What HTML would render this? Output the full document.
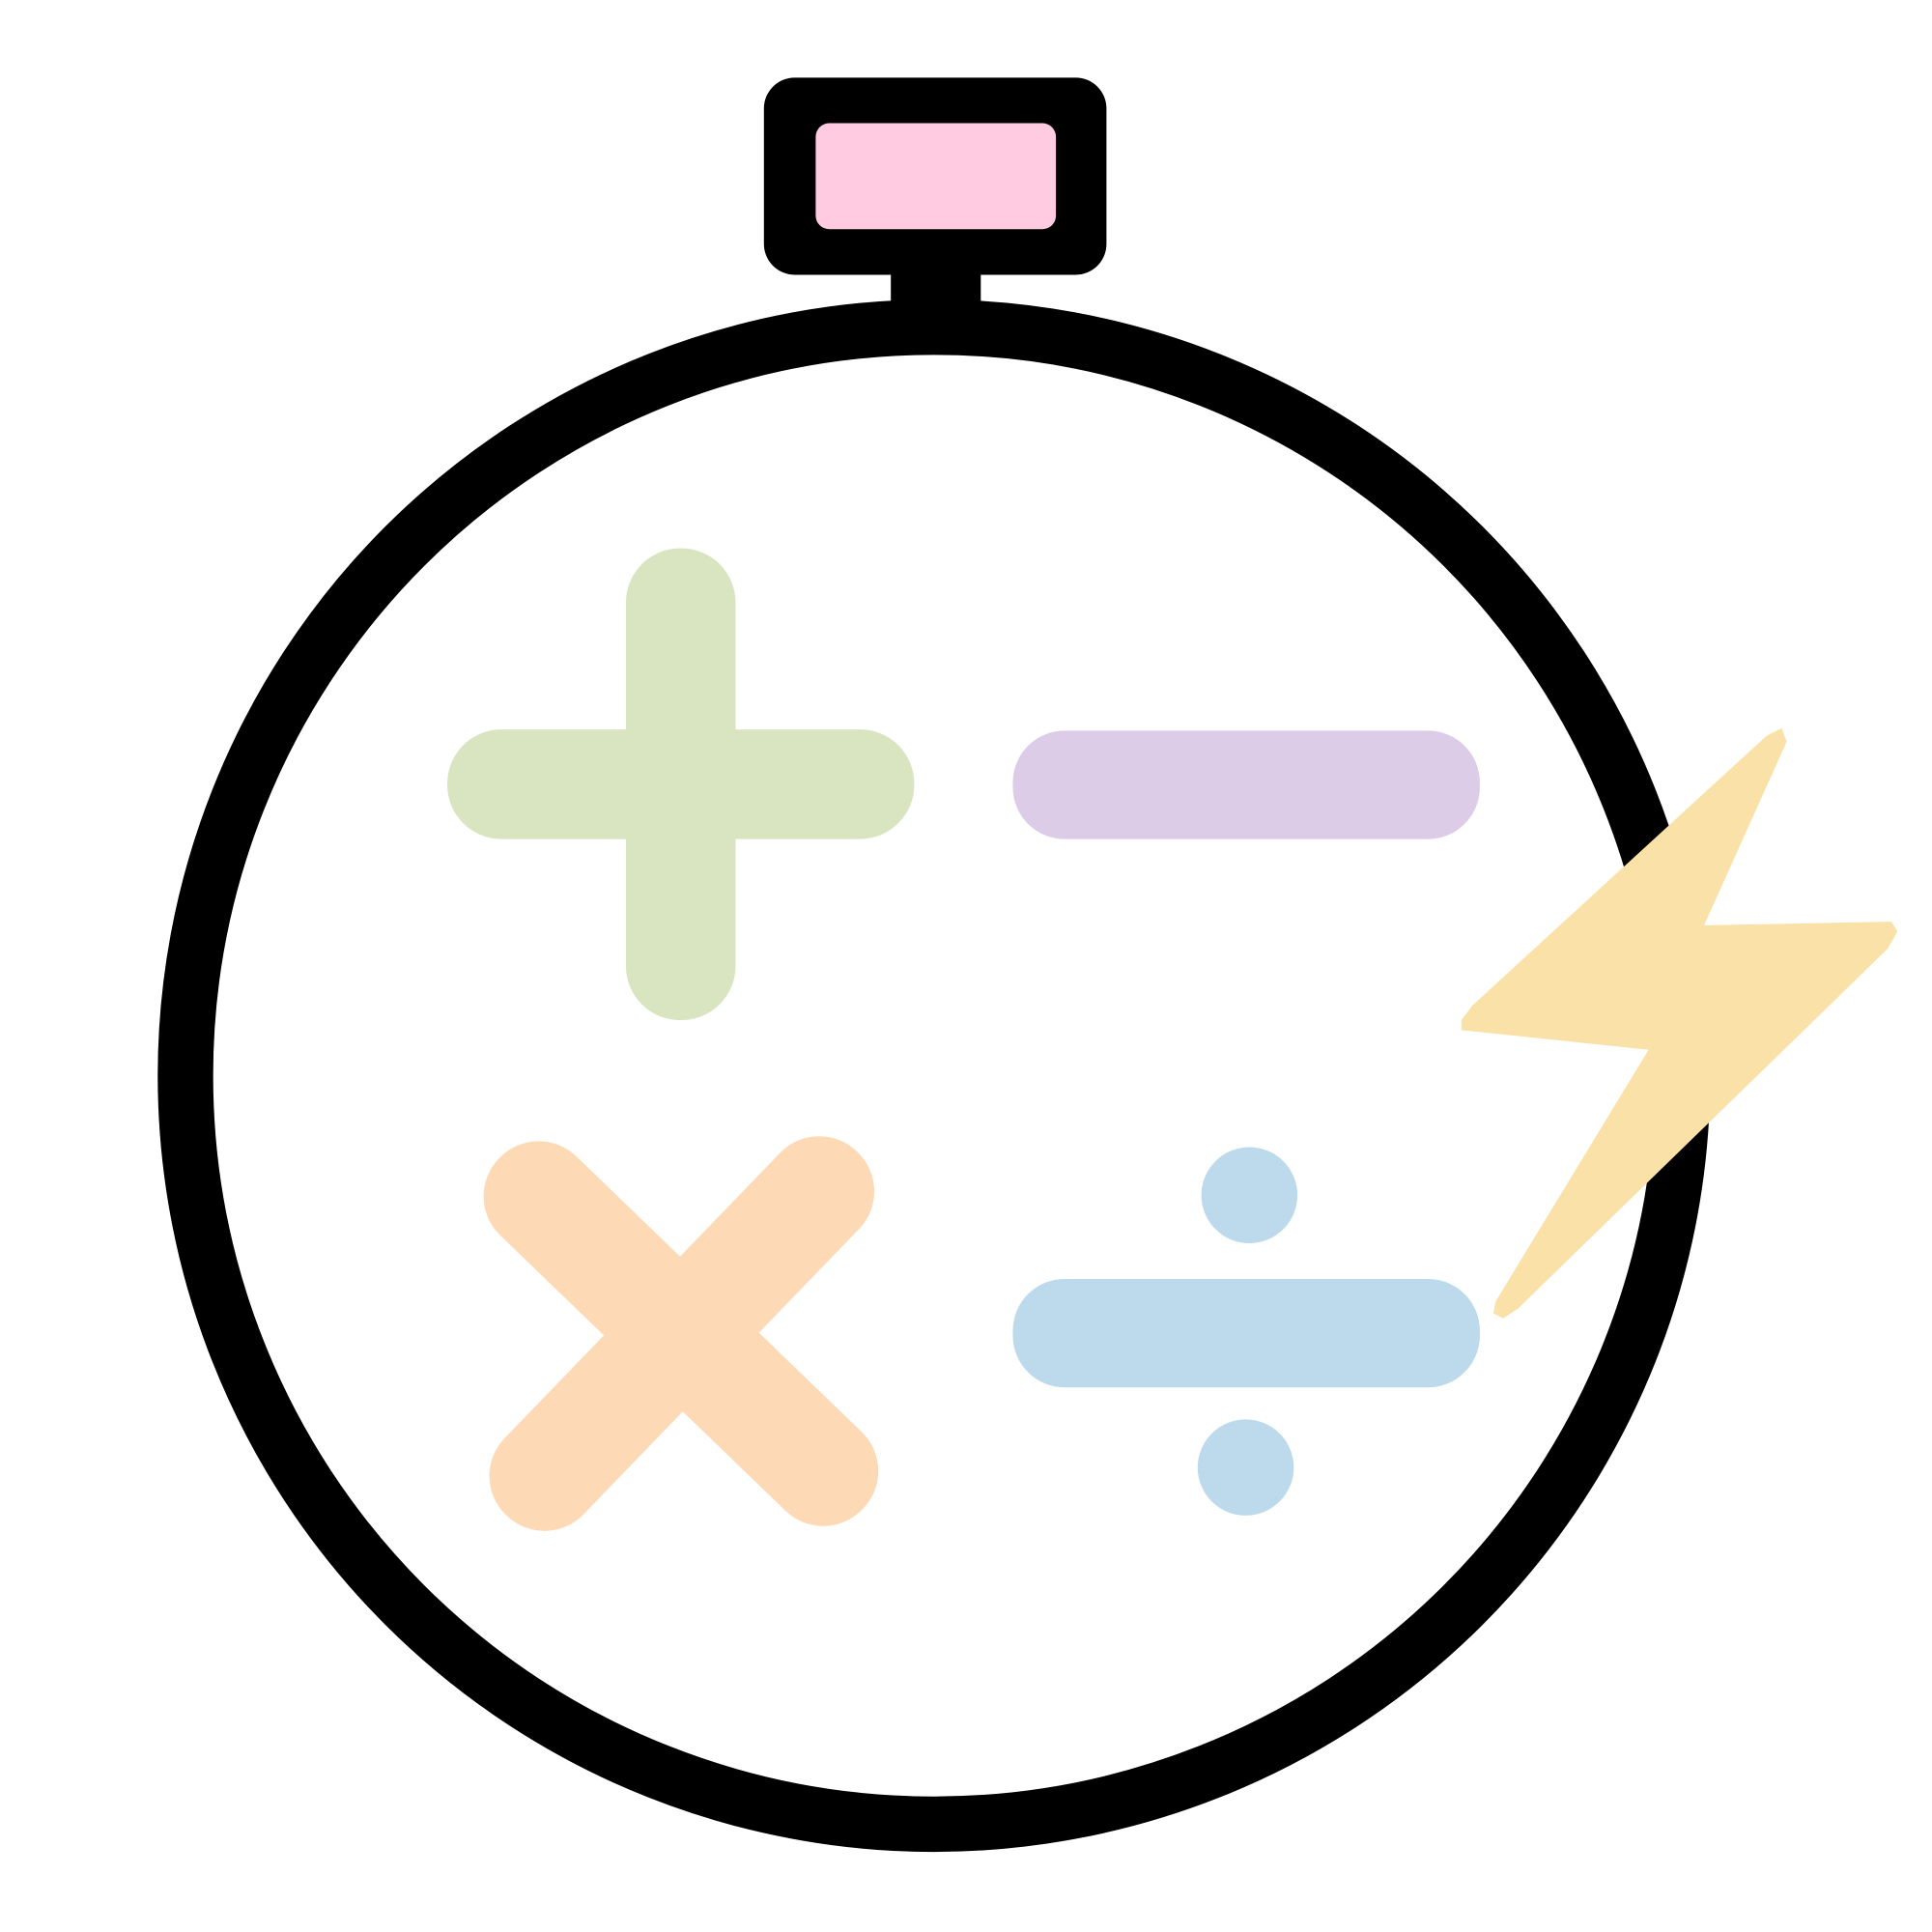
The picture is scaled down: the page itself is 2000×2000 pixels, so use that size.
<!DOCTYPE html>
<html>
<head>
<meta charset="utf-8">
<style>
html,body{margin:0;padding:0;background:#fff;}
svg{display:block;}
</style>
</head>
<body>
<svg width="2000" height="2000" viewBox="0 0 1568 1568" xmlns="http://www.w3.org/2000/svg">
  <rect width="1568" height="1568" fill="#fff"/>
  <rect x="723" y="215" width="73" height="40" fill="#000"/>
  <rect x="620" y="63" width="278" height="160" rx="25" fill="#000"/>
  <rect x="662" y="100" width="195" height="86" rx="11" fill="#FECBE0"/>
  <circle cx="758" cy="873" r="607.5" fill="none" stroke="#000" stroke-width="45"/>
  <rect x="508" y="445" width="89" height="383" rx="44" fill="#D8E5C0"/>
  <rect x="363" y="592" width="379" height="89" rx="44" fill="#D8E5C0"/>
  <rect x="822" y="593" width="379" height="88" rx="42" fill="#DCCCE8"/>
  <g transform="translate(553,1082)" fill="#FDD9B5">
    <rect x="-205" y="-44" width="410" height="89" rx="44" transform="rotate(44)"/>
    <rect x="-205" y="-44" width="410" height="89" rx="44" transform="rotate(-46)"/>
  </g>
  <rect x="822" y="1038" width="379" height="88" rx="42" fill="#BDD9EC"/>
  <circle cx="1014" cy="970" r="39" fill="#BDD9EC"/>
  <circle cx="1011" cy="1191" r="39" fill="#BDD9EC"/>
  <polygon fill="#F9E1A8" points="1434,597 1446,591 1450,602 1383,751 1535,748 1540,756 1532,770 1232,1062 1220,1070 1212,1066 1214,1056 1338,852 1186,836 1186,828 1195,816"/>
</svg>
</body>
</html>
